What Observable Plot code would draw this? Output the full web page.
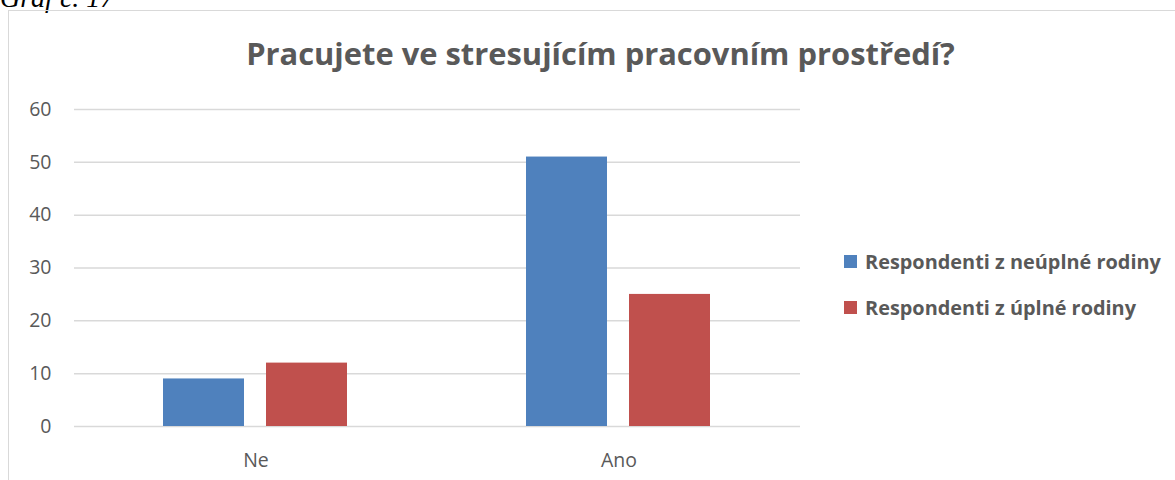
<!DOCTYPE html>
<html>
<head>
<meta charset="utf-8">
<script src="https://cdn.jsdelivr.net/npm/d3@7"></script>
<script src="https://cdn.jsdelivr.net/npm/@observablehq/plot@0.6"></script>
<style>
  html, body { margin: 0; padding: 0; background: #fff; width: 1175px; height: 480px; overflow: hidden; }
  #wrap { position: relative; width: 1175px; height: 480px; }
  #caption { position: absolute; left: 0; top: -18px; font-family: "Liberation Serif", serif; font-style: italic; font-size: 28px; color: #000; white-space: nowrap; }
  #frame { position: absolute; left: 8px; top: 10px; width: 1200px; height: 500px; border-left: 1.5px solid #d9d9d9; border-top: 1.5px solid #d9d9d9; }
  #title { position: absolute; left: 0; width: 1201px; text-align: center; font-family: "Open Sans", sans-serif; font-weight: 700; color: #595959; white-space: nowrap; line-height: 1; }
  #chart { position: absolute; left: 0; top: 0; }
  .leg { position: absolute; left: 844px; height: 20px; font-family: "Open Sans", sans-serif; font-weight: 700; color: #595959; white-space: nowrap; display: flex; align-items: center; }
  .sw { width: 13px; height: 13px; margin-right: 8px; display: inline-block; flex: none; }
</style>
</head>
<body>
<div id="wrap">
  <div id="caption">Graf č. 17</div>
  <div id="frame"></div>
  <div id="title">Pracujete ve stresujícím pracovním prostředí?</div>
  <div id="chart"></div>
  <div id="legend"></div>
</div>
<script>
const categories = ["Ne", "Ano"];
const seriesNames = ["Respondenti z neúplné rodiny", "Respondenti z úplné rodiny"];
const seriesColors = ["#4f81bd", "#c0504d"];
const neuplne = [9, 51];
const uplne = [12, 25];
const yTicks = [0, 10, 20, 30, 40, 50, 60];
const titleText = "Pracujete ve stresujícím pracovním prostředí?";

// font size fitting to match reference text widths
const ctx = document.createElement("canvas").getContext("2d");
function fit(text, weight, target) {
  ctx.font = `${weight} 100px "Open Sans"`;
  return 100 * target / ctx.measureText(text).width;
}
const titleSize = fit(titleText, 700, 709);
const legendSize = fit(seriesNames[0], 700, 296);
const tickSize = Math.min(fit("60", 400, 23), fit("Ano", 400, 36));

const title = document.getElementById("title");
title.style.fontSize = titleSize + "px";
title.style.top = (55 - titleSize * 0.55) + "px";

const data = [];
categories.forEach((c, i) => {
  data.push({category: c, series: seriesNames[0], value: neuplne[i]});
  data.push({category: c, series: seriesNames[1], value: uplne[i]});
});

const chart = Plot.plot({
  width: 820,
  height: 480,
  marginLeft: 73,
  marginRight: 20,
  marginTop: 109,
  marginBottom: 54,
  style: {fontFamily: "'Open Sans', sans-serif", fontSize: tickSize + "px", color: "#595959", background: "transparent"},
  fx: {domain: categories, padding: 0, label: null, axis: "bottom", tickSize: 0, tickPadding: 27},
  x: {domain: seriesNames, paddingInner: 0.2115, paddingOuter: 0.853, axis: null},
  y: {domain: [0, 60], label: null, ticks: yTicks, tickSize: 0, tickPadding: 23, tickFormat: d => String(d)},
  color: {domain: seriesNames, range: seriesColors},
  marks: [
    Plot.ruleY(yTicks, {stroke: "#d9d9d9", strokeWidth: 1.5}),
    Plot.barY(data, {fx: "category", x: "series", y: "value", fill: "series"})
  ]
});
chart.querySelectorAll("text").forEach(t => t.setAttribute("fill", "#595959"));
document.getElementById("chart").appendChild(chart);

const legend = document.getElementById("legend");
seriesNames.forEach((s, i) => {
  const d = document.createElement("div");
  d.className = "leg";
  d.style.fontSize = legendSize + "px";
  d.style.top = (251 + i * 46) + "px";
  d.innerHTML = `<span class="sw" style="background:${seriesColors[i]}"></span>${s}`;
  legend.appendChild(d);
});
</script>
</body>
</html>
